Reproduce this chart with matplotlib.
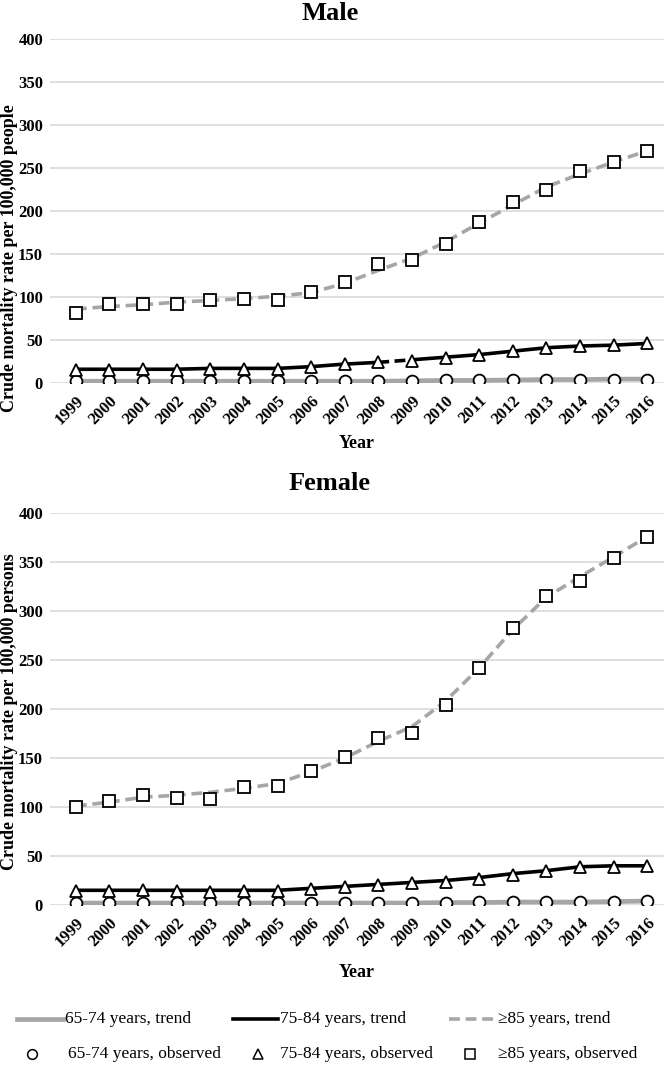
import matplotlib
matplotlib.use("Agg")
import matplotlib.pyplot as plt
import matplotlib.transforms as mtransforms
from matplotlib.lines import Line2D

plt.rcParams['font.family'] = ['Liberation Serif', 'DejaVu Serif']

years = [str(y) for y in range(1999, 2017)]

# Male
male_65_obs = [2, 2, 2, 2, 2, 2, 2, 2, 2, 2, 2, 3, 3, 3, 4, 4, 4, 4]
male_65_trend = [2, 2, 2, 2, 2, 2, 2, 2, 2, 2, 2.5, 3, 3, 3.5, 4, 4, 4.5, 4.5]
male_75_obs = [15, 15, 16, 15, 16, 16, 16, 19, 22, 24, 26, 29, 33, 37, 41, 43, 44, 46]
male_75_trend = [16, 16, 16, 16, 17, 17, 17, 19, 22, 24, 27, 30, 33, 37, 41, 43, 44, 46]
male_85_obs = [81, 92, 92, 92, 97, 98, 97, 106, 117, 138, 143, 162, 187, 211, 225, 246, 257, 270]
male_85_trend = [86, 89, 91, 94, 96, 98, 101, 105, 116, 131, 145, 164, 186, 207, 228, 243, 257, 270]

# Female
fem_65_obs = [2, 2, 2, 2, 2, 2, 2, 2, 2, 2, 2, 2, 3, 3, 3, 3, 3, 4]
fem_65_trend = [2, 2, 2, 2, 2, 2, 2, 2, 2, 2, 2, 2.5, 2.5, 3, 3, 3, 3.5, 4]
fem_75_obs = [14, 14, 15, 14, 13, 14, 14, 16, 18, 20, 22, 23, 27, 31, 35, 39, 39, 40]
fem_75_trend = [15, 15, 15, 15, 15, 15, 15, 17, 19, 21, 23, 25, 28, 32, 35, 39, 40, 40]
fem_85_obs = [100, 106, 112, 109, 108, 120, 121, 137, 151, 170, 176, 204, 242, 283, 315, 331, 354, 376]
fem_85_trend = [101, 105, 110, 112, 115, 119, 124, 136, 150, 167, 182, 208, 242, 281, 314, 335, 355, 376]

yticks = [0, 50, 100, 150, 200, 250, 300, 350, 400]

line_labels = ['65-74 years, trend', '75-84 years, trend', '\u226585 years, trend']
mark_labels = ['65-74 years, observed', '75-84 years, observed', '\u226585 years, observed']

W, H = 664, 1071
fig = plt.figure(figsize=(W / 100, H / 100), dpi=100)

GRAY = '#A6A6A6'
GRID = '#D9D9D9'

def fx(px):
    return px / W

def fy(py):
    return 1 - py / H

def frac_rect(left, top, right, bottom):
    return [left / W, 1 - bottom / H, (right - left) / W, (bottom - top) / H]

def draw(ax, o65, t65, o75, t75, o85, t85, ylabel, xlabelpad, dashed_gap=None):
    x = list(range(len(years)))
    ax.plot(x, t65, color=GRAY, lw=3.4, zorder=2)
    if dashed_gap is None:
        ax.plot(x, t75, color='black', lw=2.6, zorder=3)
    else:
        i = dashed_gap
        ax.plot(x[:i + 1], t75[:i + 1], color='black', lw=2.6, zorder=3)
        ax.plot(x[i:i + 2], t75[i:i + 2], color='black', lw=2.6, zorder=3,
                dashes=(3, 1.5))
        ax.plot(x[i + 1:], t75[i + 1:], color='black', lw=2.6, zorder=3)
    ax.plot(x, t85, color=GRAY, lw=2.6, zorder=3, dashes=(3, 1.6))
    mk = dict(mfc='white', mec='black', mew=1.3, ls='none', zorder=5)
    ax.plot(x, o65, marker='o', ms=8.5, **mk)
    ax.plot(x, o75, marker='^', ms=9, **mk)
    ax.plot(x, o85, marker='s', ms=8.5, **mk)
    ax.set_ylim(0, 400)
    ax.set_yticks(yticks)
    ax.set_xlim(-0.77, 17.5)
    ax.set_xticks(x)
    ax.set_xticklabels(years, rotation=45, ha='right', rotation_mode='anchor',
                       fontsize=12, fontweight='bold')
    for lab in ax.get_yticklabels():
        lab.set_fontweight('bold')
        lab.set_fontsize(12)
    ax.tick_params(axis='both', length=0)
    ax.tick_params(axis='x', pad=7)
    ax.tick_params(axis='y', pad=5)
    ax.grid(axis='y', color=GRID, lw=1.2, zorder=0)
    ax.set_axisbelow(True)
    for s in ax.spines.values():
        s.set_visible(False)
    ax.set_xlabel('Year', fontsize=13, fontweight='bold', labelpad=xlabelpad)

ax1 = fig.add_axes(frac_rect(50, 39, 664, 383))
draw(ax1, male_65_obs, male_65_trend, male_75_obs, male_75_trend,
     male_85_obs, male_85_trend,
     'Crude mortality rate per 100,000 people', 5, dashed_gap=9)

ax2 = fig.add_axes(frac_rect(50, 513, 664, 905))
draw(ax2, fem_65_obs, fem_65_trend, fem_75_obs, fem_75_trend,
     fem_85_obs, fem_85_trend,
     'Crude mortality rate per 100,000 persons', 10)

# y-axis titles
fig.text(fx(9.5), fy(258), 'Crude mortality rate per 100,000 people', rotation=90,
         fontsize=13, fontweight='bold', ha='center', va='center')
fig.text(fx(9.5), fy(712), 'Crude mortality rate per 100,000 persons', rotation=90,
         fontsize=13, fontweight='bold', ha='center', va='center')

fig.text(fx(330), fy(13), 'Male', fontsize=19, fontweight='bold', ha='center', va='center')
fig.text(fx(330), fy(484), 'Female', fontsize=19, fontweight='bold', ha='center', va='center')

# legend row 1: trend lines
row1_y = fy(1019)
starts = [17, 233, 449]
ends = [63, 278, 496]
styles = [dict(color=GRAY, lw=3.4), dict(color='black', lw=2.6),
          dict(color=GRAY, lw=2.6, dashes=(3, 1.6))]
for s, e, st, lab in zip(starts, ends, styles, line_labels):
    fig.add_artist(Line2D([fx(s), fx(e)], [row1_y, row1_y],
                          transform=fig.transFigure, **st))
    fig.text(fx(e + 2), row1_y, lab, fontsize=12.5, ha='left', va='center')

# legend row 2: observed markers
row2_y = fy(1054)
mcent = [32, 258, 470]
tstart = [68, 280, 498]
mks = ['o', '^', 's']
for c, t, m, lab in zip(mcent, tstart, mks, mark_labels):
    fig.add_artist(Line2D([fx(c)], [row2_y], marker=m, ms=7, mfc='white',
                          mec='black', mew=1.1, ls='none',
                          transform=fig.transFigure))
    fig.text(fx(t), row2_y, lab, fontsize=12.5, ha='left', va='center')

fig.savefig('out.png', dpi=100)
